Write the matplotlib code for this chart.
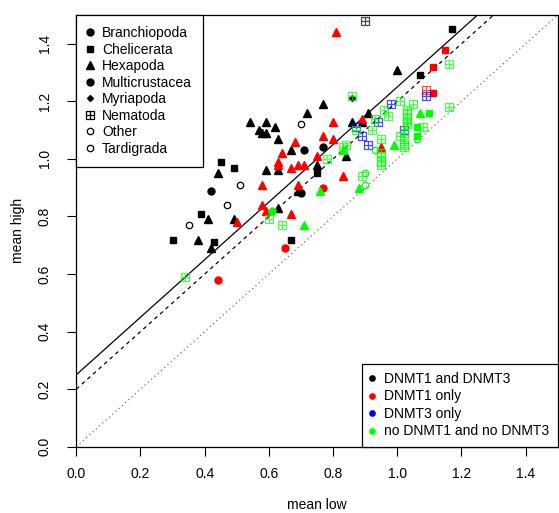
import matplotlib
matplotlib.use("Agg")
import matplotlib.pyplot as plt
import numpy as np
from matplotlib.lines import Line2D
from matplotlib.path import Path

plt.rcParams['font.family'] = ['Liberation Sans', 'DejaVu Sans']

# one entry per species: mean methylation in low / high expressed genes
mean_low = [
    # DNMT1 and DNMT3
    0.30, 0.39, 0.43, 0.45, 0.49, 0.67, 0.75, 1.07, 1.17,
    0.38, 0.42, 0.41, 0.49, 0.44, 0.54, 0.59, 0.57, 0.58, 0.59, 0.62, 0.63, 0.59,
    0.63, 0.67, 0.72, 0.77, 0.69, 0.63, 0.75, 0.84, 0.86, 0.89, 0.91, 1.00,
    0.42, 0.70, 0.71, 0.77, 0.47, 0.70, 0.35, 0.51, 0.86, 0.90,
    # DNMT1 only
    0.81, 0.68, 0.64, 0.63, 0.63, 0.67, 0.69, 0.71, 0.58, 0.69, 0.58, 0.59, 0.50,
    0.67, 0.80, 0.77, 0.80, 0.75, 0.83, 0.89, 0.95,
    0.77, 0.65, 0.44, 1.15, 1.11, 1.11, 1.09,
    # DNMT3 only
    0.98, 0.94, 0.87, 0.89, 0.91, 1.02, 1.09,
    # no DNMT1 and no DNMT3
    0.34, 0.60, 0.64, 0.78, 0.83, 0.84, 0.86, 0.87, 0.89, 0.92, 0.93, 0.95, 0.95,
    0.95, 0.95, 0.95, 0.96, 0.97, 1.01, 1.01, 1.02, 1.02, 1.02, 1.02, 1.03, 1.03,
    1.03, 1.03, 1.03, 1.05, 1.08, 1.16, 1.16,
    0.71, 0.76, 0.83, 0.88, 0.99, 1.07,
    1.10, 1.06, 1.06,
    0.61,
    0.93, 0.90, 0.90, 1.06,
]
mean_high = [
    0.72, 0.81, 0.71, 0.99, 0.97, 0.72, 0.95, 1.29, 1.45,
    0.72, 0.69, 0.79, 0.79, 0.95, 1.13, 1.13, 1.10, 1.09, 1.09, 1.11, 1.07, 0.96,
    0.96, 1.03, 1.16, 1.19, 0.89, 0.83, 0.98, 1.01, 1.13, 1.13, 1.16, 1.31,
    0.89, 0.88, 1.03, 1.04, 0.84, 1.12, 0.77, 0.91, 1.21, 1.48,
    1.44, 1.06, 1.02, 0.99, 0.98, 0.97, 0.98, 0.98, 0.91, 0.91, 0.84, 0.82, 0.78,
    0.81, 1.13, 1.08, 1.07, 1.01, 0.94, 1.14, 1.04,
    0.90, 0.69, 0.58, 1.38, 1.32, 1.23, 1.24,
    1.19, 1.13, 1.11, 1.08, 1.05, 1.10, 1.22,
    0.59, 0.79, 0.77, 1.00, 1.04, 1.05, 1.22, 1.10, 0.94, 1.10, 1.14, 1.07, 1.02,
    1.01, 0.99, 0.98, 1.17, 1.15, 1.20, 1.08, 1.09, 1.07, 1.05, 1.04, 1.17, 1.16,
    1.14, 1.13, 1.12, 1.19, 1.11, 1.33, 1.18,
    0.77, 0.89, 1.03, 0.90, 1.05, 1.16,
    1.16, 1.11, 1.08,
    0.82,
    1.03, 0.95, 0.91, 1.07,
]
taxon = (
    ['Chelicerata'] * 9 + ['Hexapoda'] * 25
    + ['Branchiopoda'] * 2 + ['Multicrustacea'] * 2 + ['Other'] * 2 + ['Tardigrada'] * 2
    + ['Myriapoda', 'Nematoda']
    + ['Hexapoda'] * 21 + ['Branchiopoda'] * 2 + ['Multicrustacea'] + ['Chelicerata'] * 3 + ['Nematoda']
    + ['Nematoda'] * 7
    + ['Nematoda'] * 33 + ['Hexapoda'] * 6 + ['Chelicerata'] * 3 + ['Branchiopoda']
    + ['Other'] * 2 + ['Tardigrada'] * 2
)
dnmt = (['both'] * 44 + ['DNMT1'] * 28 + ['DNMT3'] * 7 + ['none'] * 47)

taxa = ['Branchiopoda', 'Chelicerata', 'Hexapoda', 'Multicrustacea',
        'Myriapoda', 'Nematoda', 'Other', 'Tardigrada']
dnmt_groups = ['both', 'DNMT1', 'DNMT3', 'none']
dnmt_labels = ['DNMT1 and DNMT3', 'DNMT1 only', 'DNMT3 only', 'no DNMT1 and no DNMT3']
dnmt_colors = {'both': 'black', 'DNMT1': '#FF0000', 'DNMT3': '#0000FF', 'none': '#00FF00'}

# square with a cross, like R's pch 12
box_plus = Path([(-1, -1), (1, -1), (1, 1), (-1, 1), (-1, -1), (0, -1), (0, 1), (-1, 0), (1, 0)],
                [Path.MOVETO, Path.LINETO, Path.LINETO, Path.LINETO, Path.CLOSEPOLY,
                 Path.MOVETO, Path.LINETO, Path.MOVETO, Path.LINETO])
marker_style = {
    'Branchiopoda': dict(marker='o', ms=5),
    'Chelicerata': dict(marker='s', ms=4.6),
    'Hexapoda': dict(marker='^', ms=5.6),
    'Multicrustacea': dict(marker='o', ms=5),
    'Myriapoda': dict(marker='D', ms=3),
    'Nematoda': dict(marker=box_plus, ms=5.2, fillstyle='none', mew=0.9, alpha=0.7),
    'Other': dict(marker='o', ms=4.6, fillstyle='none', mew=0.9),
    'Tardigrada': dict(marker='o', ms=4.6, fillstyle='none', mew=0.9),
}

mean_low = np.array(mean_low)
mean_high = np.array(mean_high)
taxon = np.array(taxon)
dnmt = np.array(dnmt)

fig = plt.figure(figsize=(5.59, 5.13), dpi=100)
ax = fig.add_axes([0.1365, 0.1292, 0.8612, 0.8415])

ax.axline((0, 0.25), slope=1, color='black', lw=0.9)
ax.axline((0, 0.2), slope=1, color='black', lw=0.9, linestyle=(0, (3, 3)))
ax.axline((0, 0), slope=1, color='0.45', lw=0.9, linestyle=(0, (1, 2.5)))

for g in dnmt_groups:
    for t in taxa:
        sel = (dnmt == g) & (taxon == t)
        if sel.any():
            ax.plot(mean_low[sel], mean_high[sel], linestyle='none',
                    color=dnmt_colors[g], **marker_style[t])

ax.set_xlim(0, 1.5)
ax.set_ylim(0, 1.5)
ax.set_xticks(np.arange(0, 1.41, 0.2))
ax.set_yticks(np.arange(0, 1.41, 0.2))
ax.set_xticklabels([f'{v:.1f}' for v in np.arange(0, 1.41, 0.2)])
ax.set_yticklabels([f'{v:.1f}' for v in np.arange(0, 1.41, 0.2)], rotation=90, va='center')
ax.tick_params(axis='both', length=6.5, width=0.8, labelsize=10)
ax.tick_params(axis='x', pad=8)
ax.tick_params(axis='y', pad=11)
ax.set_xlabel('mean low', fontsize=10, labelpad=12)
ax.set_ylabel('mean high', fontsize=10, labelpad=9)
for s in ax.spines.values():
    s.set_linewidth(0.9)

taxon_handles = [Line2D([], [], linestyle='none', color='black',
                        **{k: v for k, v in marker_style[t].items() if k != 'alpha'})
                 for t in taxa]
leg1 = ax.legend(taxon_handles, taxa, loc='upper left', bbox_to_anchor=(0, 1),
                 borderaxespad=0, fancybox=False, edgecolor='black', framealpha=1,
                 fontsize=10, handlelength=0.4, handletextpad=0.65, labelspacing=0.18,
                 borderpad=0.8)
leg1.get_frame().set_linewidth(0.9)
ax.add_artist(leg1)

dnmt_handles = [Line2D([], [], linestyle='none', marker='o', ms=3.8, color=dnmt_colors[g])
                for g in dnmt_groups]
leg2 = ax.legend(dnmt_handles, dnmt_labels, loc='lower right', bbox_to_anchor=(1, 0),
                 borderaxespad=0, fancybox=False, edgecolor='black', framealpha=1,
                 fontsize=10, handlelength=0.2, handletextpad=0.8, labelspacing=0.25,
                 borderpad=0.6)
leg2.get_frame().set_linewidth(0.9)

fig.savefig('out.png', dpi=100)
